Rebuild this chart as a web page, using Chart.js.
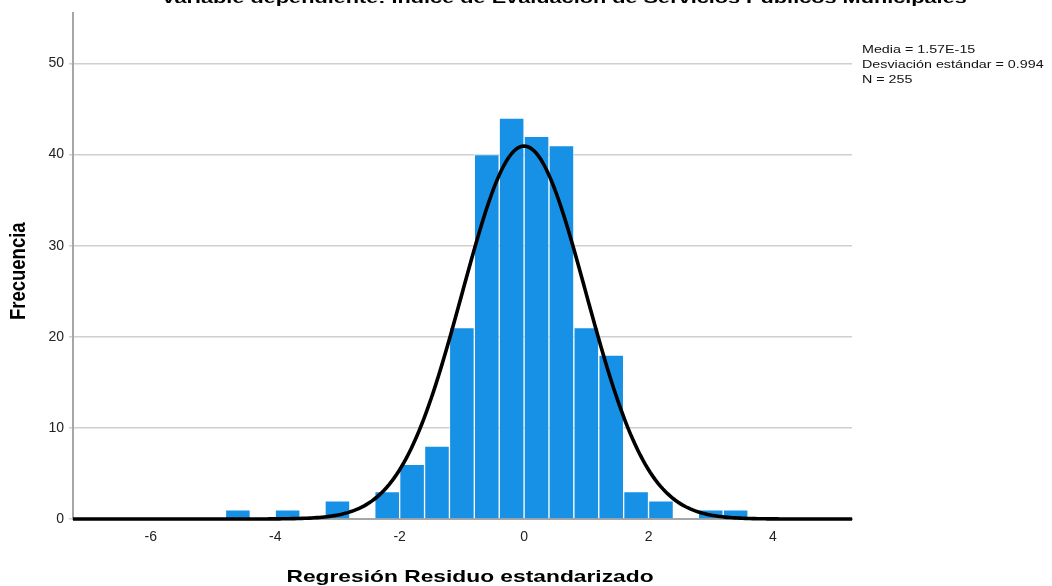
<!DOCTYPE html>
<html lang="es">
<head>
<meta charset="utf-8">
<title>Histograma de residuos</title>
<script src="https://cdn.jsdelivr.net/npm/chart.js@4.4.1/dist/chart.umd.min.js"></script>
<style>
  html, body { margin: 0; padding: 0; background: #ffffff; }
  #wrap { width: 1052px; height: 586px; }
</style>
</head>
<body>
<div id="wrap"><canvas id="hist" width="1052" height="586"></canvas></div>
<script>
// Histogram bins (centre of each 0.4-wide bin) and their frequencies
const binCenters = [-4.6, -4.2, -3.8, -3.4, -3.0, -2.6, -2.2, -1.8, -1.4, -1.0, -0.6,
                    -0.2, 0.2, 0.6, 1.0, 1.4, 1.8, 2.2, 2.6, 3.0, 3.4];
const counts     = [1, 0, 1, 0, 2, 0, 3, 6, 8, 21, 40,
                    44, 42, 41, 21, 18, 3, 2, 0, 1, 1];
const binWidth = 0.4;

// Summary statistics shown beside the plot
const media = 1.57e-15;
const desviacion = 0.994;
const nTotal = 255;
const statLines = ['Media = 1.57E-15', 'Desviación estándar = 0.994', 'N = 255'];

// Axis ranges and tick step
const xRange = [-7.25, 5.27];
const yRange = [0, 55.5];
const xStep = 2;
const yStep = 10;

const chartTitle = 'Variable dependiente: Índice de Evaluación de Servicios Públicos Municipales';
const xTitle = 'Regresión Residuo estandarizado';
const yTitle = 'Frecuencia';

// Normal curve scaled to the histogram (N · bin width · density)
const curve = [];
for (let x = xRange[0]; x <= xRange[1] + 1e-9; x += 0.04) {
  const z = (x - media) / desviacion;
  const y = nTotal * binWidth * Math.exp(-0.5 * z * z) / (desviacion * Math.sqrt(2 * Math.PI));
  curve.push({ x: x, y: y });
}

const bars = binCenters.map((c, i) => ({ x: c, y: counts[i] }));

const FONT = '"Liberation Sans", Arial, sans-serif';

// Draws a text string widened horizontally by factor sx
function stretchedText(ctx, text, x, y, font, align, sx, color) {
  ctx.save();
  ctx.font = font;
  ctx.fillStyle = color;
  ctx.textAlign = align;
  ctx.textBaseline = 'alphabetic';
  ctx.translate(x, y);
  ctx.scale(sx, 1);
  ctx.fillText(text, 0, 0);
  ctx.restore();
}

const labelsPlugin = {
  id: 'labelsPlugin',
  afterDraw(chart) {
    const ctx = chart.ctx;
    const area = chart.chartArea;
    // chart title
    stretchedText(ctx, chartTitle, 564, 3, 'bold 15.5px ' + FONT, 'center', 1.4, '#000');
    // x axis title
    stretchedText(ctx, xTitle, 470, 582, 'bold 17px ' + FONT, 'center', 1.34, '#000');
    // y axis title (rotated)
    ctx.save();
    ctx.font = 'bold 18.5px ' + FONT;
    ctx.fillStyle = '#000';
    ctx.textAlign = 'center';
    ctx.textBaseline = 'middle';
    ctx.translate(19, (area.top + area.bottom) / 2 + 5);
    ctx.scale(1.15, 1);
    ctx.rotate(-Math.PI / 2);
    ctx.fillText(yTitle, 0, 0);
    ctx.restore();
    // statistics block
    statLines.forEach((t, i) => {
      stretchedText(ctx, t, area.right + 10, 53 + i * 15, '11px ' + FONT, 'left', 1.3, '#111');
    });
  }
};

new Chart(document.getElementById('hist'), {
  data: {
    datasets: [
      {
        type: 'line',
        label: 'Normal',
        data: curve,
        borderColor: '#000000',
        borderWidth: 3.6,
        pointRadius: 0,
        tension: 0,
        clip: 4,
        order: 0
      },
      {
        type: 'bar',
        label: 'Frecuencia',
        data: bars,
        backgroundColor: '#1691e5',
        borderColor: 'rgba(255,255,255,0.55)',
        borderWidth: 1,
        borderSkipped: 'bottom',
        barPercentage: 1,
        categoryPercentage: 1,
        grouped: false,
        order: 1
      }
    ]
  },
  options: {
    responsive: false,
    animation: false,
    layout: { padding: { top: 13, right: 200, left: 0, bottom: 0 } },
    plugins: {
      legend: { display: false },
      tooltip: { enabled: false },
      title: { display: false }
    },
    scales: {
      x: {
        type: 'linear',
        offset: false,
        min: xRange[0],
        max: xRange[1],
        afterFit(s) { s.height = 67; },
        grid: { display: false, drawTicks: false },
        border: { display: true, color: '#a6a6a6', width: 2 },
        ticks: {
          stepSize: xStep,
          includeBounds: false,
          padding: 10,
          color: '#222',
          font: { family: FONT, size: 14 }
        }
      },
      y: {
        type: 'linear',
        min: yRange[0],
        max: yRange[1],
        afterFit(s) { s.width = 73; },
        grid: { color: '#cfcfcf', lineWidth: 1.5, drawTicks: true, tickLength: 4 },
        border: { display: true, color: '#a6a6a6', width: 2 },
        ticks: {
          stepSize: yStep,
          includeBounds: false,
          padding: 5,
          color: '#222',
          font: { family: FONT, size: 14 }
        }
      }
    }
  },
  plugins: [labelsPlugin]
});
</script>
</body>
</html>
